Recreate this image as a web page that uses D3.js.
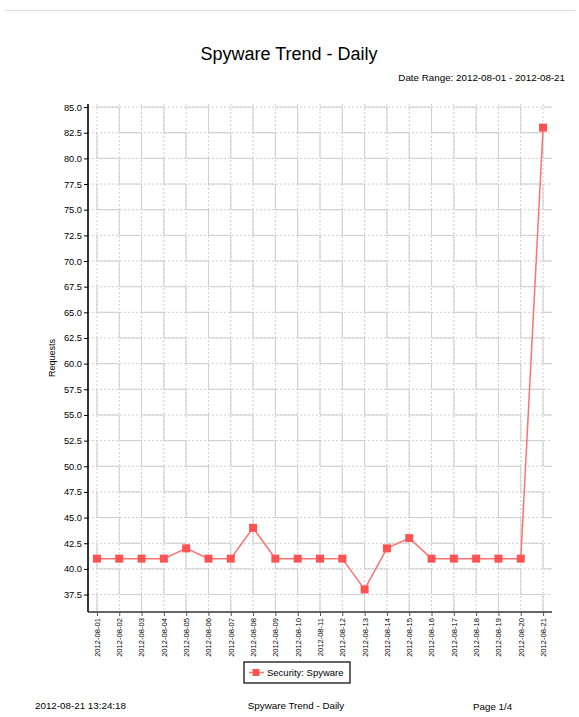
<!DOCTYPE html>
<html lang="en">
<head>
    <meta charset="UTF-8">
    <title>Spyware Trend - Daily</title>
    <script src="https://cdn.jsdelivr.net/npm/d3@7"></script>
    <style>
        body { margin: 0; background: #fff; }
        text { font-family: "Liberation Sans", Arial, sans-serif; fill: #000; }
    </style>
</head>
<body>
<div id="chart"></div>
<script>
    var w = 579, h = 717;

    // data
    var dates = ["2012-08-01", "2012-08-02", "2012-08-03", "2012-08-04", "2012-08-05", "2012-08-06", "2012-08-07",
        "2012-08-08", "2012-08-09", "2012-08-10", "2012-08-11", "2012-08-12", "2012-08-13", "2012-08-14",
        "2012-08-15", "2012-08-16", "2012-08-17", "2012-08-18", "2012-08-19", "2012-08-20", "2012-08-21"];
    var requests = [41, 41, 41, 41, 42, 41, 41, 44, 41, 41, 41, 41, 38, 42, 43, 41, 41, 41, 41, 41, 83];
    var yTicks = [37.5, 40, 42.5, 45, 47.5, 50, 52.5, 55, 57.5, 60, 62.5, 65, 67.5, 70, 72.5, 75, 77.5, 80, 82.5, 85];
    var seriesName = "Security: Spyware";

    // plot box (note: "top" is reserved on window, so use prefixed names)
    var plotL = 88, plotR = 552, plotT = 104, plotB = 612;
    var lineColor = "#ff7272", markColor = "#ff5252", gridColor = "#cfcfcf";

    var svg = d3.select("#chart").append("svg")
        .attr("width", w)
        .attr("height", h);

    // top rule of the page
    svg.append("line")
        .attr("x1", 5).attr("x2", 575)
        .attr("y1", 10.5).attr("y2", 10.5)
        .attr("stroke", "#dcdcdc");

    svg.append("text")
        .attr("x", 289).attr("y", 60)
        .attr("text-anchor", "middle")
        .attr("font-size", "18px")
        .text("Spyware Trend - Daily");

    svg.append("text")
        .attr("x", 565).attr("y", 81)
        .attr("text-anchor", "end")
        .attr("font-size", "9.8px")
        .text("Date Range: " + dates[0] + " - " + dates[dates.length - 1]);

    var x = d3.scalePoint().domain(dates).range([plotL, plotR]).padding(0.4);
    var y = d3.scaleLinear().domain([35.8, 85.3]).range([plotB, plotT]);
    var step = x.step();
    var rowH = y(82.5) - y(85);

    var grid = svg.append("g");
    // horizontal grid: dotted line + solid pieces on every other column
    yTicks.forEach(function(t, i) {
        grid.append("line")
            .attr("x1", plotL).attr("x2", plotR)
            .attr("y1", y(t)).attr("y2", y(t))
            .attr("stroke", gridColor)
            .attr("stroke-dasharray", "2,2");
        grid.append("line")
            .attr("x1", x(dates[0])).attr("x2", plotR)
            .attr("y1", y(t)).attr("y2", y(t))
            .attr("stroke", gridColor)
            .attr("stroke-dasharray", step + "," + step)
            .attr("stroke-dashoffset", i % 2 ? 0 : step);
    });
    // vertical grid
    dates.forEach(function(d, i) {
        grid.append("line")
            .attr("x1", x(d)).attr("x2", x(d))
            .attr("y1", plotT).attr("y2", plotB)
            .attr("stroke", gridColor)
            .attr("stroke-dasharray", "2,2");
        grid.append("line")
            .attr("x1", x(d)).attr("x2", x(d))
            .attr("y1", y(85)).attr("y2", plotB)
            .attr("stroke", gridColor)
            .attr("stroke-dasharray", rowH + "," + rowH)
            .attr("stroke-dashoffset", i % 2 ? 0 : rowH);
    });

    // axes
    var yAxis = svg.append("g")
        .attr("transform", "translate(" + plotL + ",0)")
        .call(d3.axisLeft(y).tickValues(yTicks).tickFormat(d3.format(".1f")).tickSize(4).tickPadding(2));
    yAxis.select(".domain").attr("stroke", "#000").attr("stroke-width", 1.6).attr("d", "M0," + plotT + "V" + plotB);
    yAxis.selectAll("text").attr("font-size", "9.3px").style("font-family", "Liberation Sans, Arial, sans-serif").attr("fill", "#111");

    var xAxis = svg.append("g")
        .attr("transform", "translate(0," + plotB + ")")
        .call(d3.axisBottom(x).tickSize(4).tickPadding(4));
    xAxis.select(".domain").attr("stroke", "#333").attr("stroke-width", 1.6).attr("d", "M" + plotL + ",0H" + plotR);
    xAxis.selectAll(".tick line").attr("stroke", "#555");
    xAxis.selectAll("text")
        .attr("font-size", "7.6px")
        .style("font-family", "Liberation Sans, Arial, sans-serif")
        .attr("fill", "#111")
        .attr("text-anchor", "end")
        .attr("dy", "0.32em")
        .attr("transform", "translate(0,2) rotate(-90)")
        .attr("x", -4).attr("y", 0);

    svg.append("text")
        .attr("transform", "translate(55," + ((plotT + plotB) / 2) + ") rotate(-90)")
        .attr("text-anchor", "middle")
        .attr("font-size", "9px")
        .text("Requests");

    // series
    var line = d3.line()
        .x(function(d, i) { return x(dates[i]); })
        .y(function(d) { return y(d); });

    svg.append("path")
        .datum(requests)
        .attr("d", line)
        .attr("fill", "none")
        .attr("stroke", lineColor)
        .attr("stroke-width", 1.5);

    svg.selectAll("rect.mark")
        .data(requests)
        .enter()
        .append("rect")
        .attr("class", "mark")
        .attr("x", function(d, i) { return x(dates[i]) - 4; })
        .attr("y", function(d) { return y(d) - 4; })
        .attr("width", 8)
        .attr("height", 8)
        .attr("fill", markColor);

    // legend
    var lg = svg.append("g").attr("transform", "translate(244,662)");
    lg.append("rect")
        .attr("width", 106).attr("height", 21)
        .attr("fill", "#fff").attr("stroke", "#111").attr("stroke-width", 1.3);
    lg.append("line")
        .attr("x1", 5).attr("x2", 20).attr("y1", 10.5).attr("y2", 10.5)
        .attr("stroke", lineColor).attr("stroke-width", 1.5);
    lg.append("rect")
        .attr("x", 8.5).attr("y", 7).attr("width", 7).attr("height", 7)
        .attr("fill", markColor);
    lg.append("text")
        .attr("x", 23).attr("y", 14)
        .attr("font-size", "9.5px")
        .text(seriesName);

    // footer
    svg.append("text").attr("x", 35).attr("y", 709).attr("font-size", "9.8px").text("2012-08-21 13:24:18");
    svg.append("text").attr("x", 296).attr("y", 709).attr("text-anchor", "middle").attr("font-size", "9.8px").text("Spyware Trend - Daily");
    svg.append("text").attr("x", 473).attr("y", 710).attr("font-size", "9.8px").text("Page 1/4");
</script>
</body>
</html>
